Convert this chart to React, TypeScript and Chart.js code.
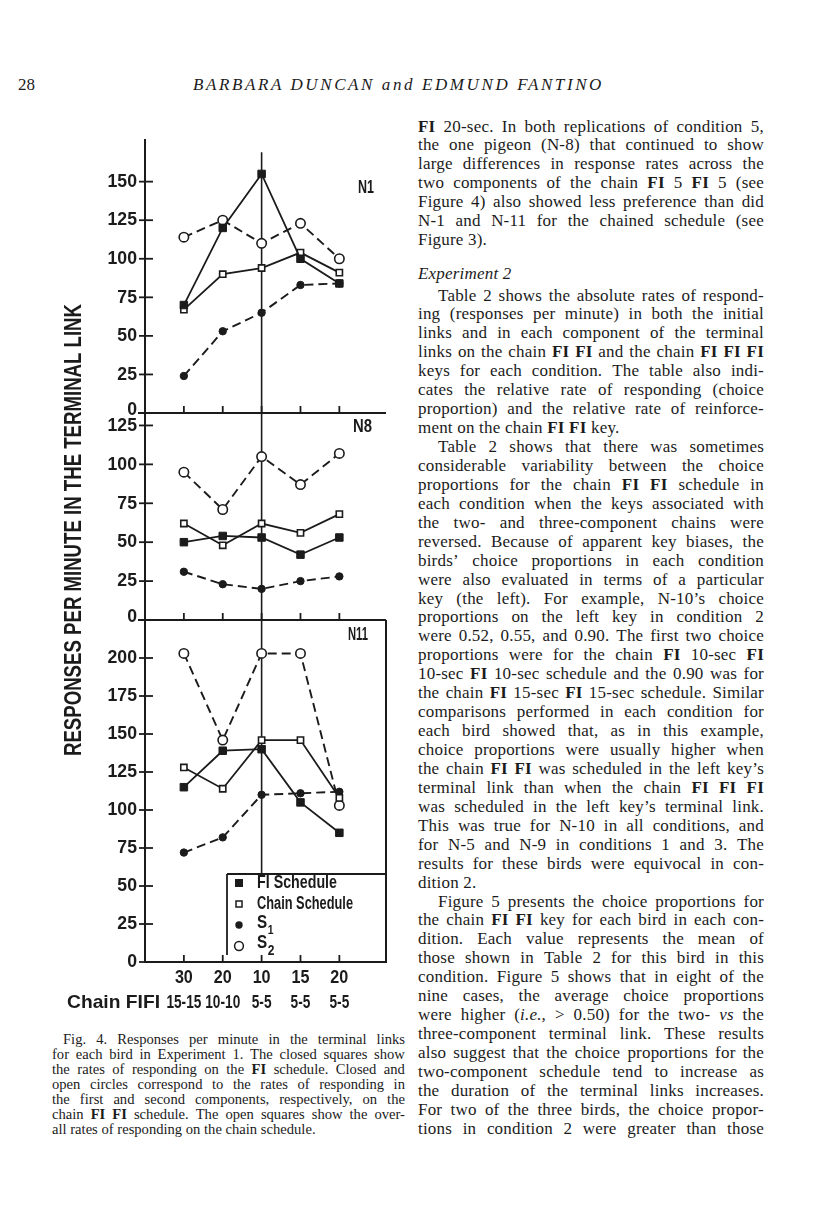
import React, { useEffect, useRef } from 'react';
import { Chart, registerables } from 'chart.js';

Chart.register(...registerables);

// ---------------- data ----------------
const conditions = ['30', '20', '10', '15', '20'];
const chainSchedules = ['15-15', '10-10', '5-5', '5-5', '5-5'];
const chainRowTitle = 'Chain FIFI';
const yAxisTitle = 'RESPONSES PER MINUTE IN THE TERMINAL LINK';
const panelNames = ['N1', 'N8', 'N11'];

const n1Fi = [70, 120, 155, 100, 84];
const n1Chain = [67, 90, 94, 104, 91];
const n1S1 = [24, 53, 65, 83, 84];
const n1S2 = [114, 125, 110, 123, 100];

const n8Fi = [50, 54, 53, 42, 53];
const n8Chain = [62, 48, 62, 56, 68];
const n8S1 = [31, 23, 20, 25, 28];
const n8S2 = [95, 71, 105, 87, 107];

const n11Fi = [115, 139, 140, 105, 85];
const n11Chain = [128, 114, 146, 146, 108];
const n11S1 = [72, 82, 110, 111, 112];
const n11S2 = [203, 146, 203, 203, 103];

const n1Ticks = [0, 25, 50, 75, 100, 125, 150];
const n8Ticks = [0, 25, 50, 75, 100, 125];
const n11Ticks = [0, 25, 50, 75, 100, 125, 150, 175, 200];
const n1Max = 177;
const n8Max = 133;
const n11Max = 225;
const referenceIndex = 2;
const referenceTop = 169;

// ---------------- page text ----------------
const bodyA = [
  'FI 20-sec. In both replications of condition 5,',
  'the one pigeon (N-8) that continued to show',
  'large differences in response rates across the',
  'two components of the chain FI 5 FI 5 (see',
  'Figure 4) also showed less preference than did',
  'N-1 and N-11 for the chained schedule (see',
  'Figure 3).',
];
const bodyAEnds = [6];
const heading = 'Experiment 2';
const bodyB = [
  'Table 2 shows the absolute rates of respond-',
  'ing (responses per minute) in both the initial',
  'links and in each component of the terminal',
  'links on the chain FI FI and the chain FI FI FI',
  'keys for each condition. The table also indi-',
  'cates the relative rate of responding (choice',
  'proportion) and the relative rate of reinforce-',
  'ment on the chain FI FI key.',
  'Table 2 shows that there was sometimes',
  'considerable variability between the choice',
  'proportions for the chain FI FI schedule in',
  'each condition when the keys associated with',
  'the two- and three-component chains were',
  'reversed. Because of apparent key biases, the',
  'birds\u2019 choice proportions in each condition',
  'were also evaluated in terms of a particular',
  'key (the left). For example, N-10\u2019s choice',
  'proportions on the left key in condition 2',
  'were 0.52, 0.55, and 0.90. The first two choice',
  'proportions were for the chain FI 10-sec FI',
  '10-sec FI 10-sec schedule and the 0.90 was for',
  'the chain FI 15-sec FI 15-sec schedule. Similar',
  'comparisons performed in each condition for',
  'each bird showed that, as in this example,',
  'choice proportions were usually higher when',
  'the chain FI FI was scheduled in the left key\u2019s',
  'terminal link than when the chain FI FI FI',
  'was scheduled in the left key\u2019s terminal link.',
  'This was true for N-10 in all conditions, and',
  'for N-5 and N-9 in conditions 1 and 3. The',
  'results for these birds were equivocal in con-',
  'dition 2.',
  'Figure 5 presents the choice proportions for',
  'the chain FI FI key for each bird in each con-',
  'dition. Each value represents the mean of',
  'those shown in Table 2 for this bird in this',
  'condition. Figure 5 shows that in eight of the',
  'nine cases, the average choice proportions',
  'were higher (_i.e.,_ > 0.50) for the two- _vs_ the',
  'three-component terminal link. These results',
  'also suggest that the choice proportions for the',
  'two-component schedule tend to increase as',
  'the duration of the terminal links increases.',
  'For two of the three birds, the choice propor-',
  'tions in condition 2 were greater than those',
];
const bodyBEnds = [7, 31];
const bodyBIndents = [0, 8, 32];
const caption = [
  'Fig. 4. Responses per minute in the terminal links',
  'for each bird in Experiment 1. The closed squares show',
  'the rates of responding on the FI schedule. Closed and',
  'open circles correspond to the rates of responding in',
  'the first and second components, respectively, on the',
  'chain FI FI schedule. The open squares show the over-',
  'all rates of responding on the chain schedule.',
];

// ---------------- styling ----------------
const INK = '#1b1b1b';
const SANS = '"Liberation Sans", Arial, sans-serif';
const SERIF = '"Liberation Serif", "Times New Roman", serif';

const pts = (arr: number[]) => arr.map((v, i) => ({ x: i, y: v }));

function panelDatasets(axis: string, fi: number[], chain: number[], s1: number[], s2: number[]) {
  const base = { yAxisID: axis, borderColor: INK, tension: 0, fill: false, pointBorderColor: INK };
  return [
    { ...base, label: 'FI Schedule', data: pts(fi), borderWidth: 1.8, pointStyle: 'rect', pointRadius: 5.3, pointBackgroundColor: INK, pointBorderWidth: 1 },
    { ...base, label: 'Chain Schedule', data: pts(chain), borderWidth: 1.8, pointStyle: 'rect', pointRadius: 4.4, pointBackgroundColor: '#ffffff', pointBorderWidth: 1.6 },
    { ...base, label: 'S1', data: pts(s1), borderWidth: 1.9, borderDash: [9, 5], pointStyle: 'circle', pointRadius: 3.7, pointBackgroundColor: INK, pointBorderWidth: 1 },
    { ...base, label: 'S2', data: pts(s2), borderWidth: 1.9, borderDash: [9, 5], pointStyle: 'circle', pointRadius: 4.7, pointBackgroundColor: '#ffffff', pointBorderWidth: 1.6 },
  ];
}

function fitText(ctx: CanvasRenderingContext2D, text: string, x: number, y: number, width: number, align: CanvasTextAlign) {
  const m = ctx.measureText(text).width || 1;
  ctx.save();
  ctx.translate(x, y);
  ctx.scale(width / m, 1);
  ctx.textAlign = align;
  ctx.fillText(text, 0, 0);
  ctx.restore();
}

function condensed(ctx: CanvasRenderingContext2D, text: string, x: number, y: number, sx: number, align: CanvasTextAlign) {
  ctx.save();
  ctx.translate(x, y);
  ctx.scale(sx, 1);
  ctx.textAlign = align;
  ctx.fillText(text, 0, 0);
  ctx.restore();
}

function seg(ctx: CanvasRenderingContext2D, x1: number, y1: number, x2: number, y2: number) {
  ctx.beginPath();
  ctx.moveTo(x1, y1);
  ctx.lineTo(x2, y2);
  ctx.stroke();
}

const decorPlugin = {
  id: 'decor',
  beforeDatasetsDraw(chart: any) {
    const { ctx, chartArea, scales } = chart;
    const xs = scales.x;
    const panels = [scales.yN1, scales.yN8, scales.yN11];
    ctx.save();
    ctx.strokeStyle = INK;
    ctx.setLineDash([]);
    ctx.lineWidth = 2;
    for (const s of [scales.yN1, scales.yN8]) {
      const py = s.getPixelForValue(0);
      seg(ctx, chartArea.left - 7, py, chartArea.right, py);
    }
    seg(ctx, chartArea.right, scales.yN11.top, chartArea.right, scales.yN11.bottom);
    ctx.lineWidth = 1.8;
    for (const s of panels) {
      for (const t of s.ticks) {
        const py = s.getPixelForValue(t.value);
        seg(ctx, s.right - 6, py, s.right + 8, py);
      }
      const p0 = s.getPixelForValue(0);
      conditions.forEach((_, i) => {
        const px = xs.getPixelForValue(i);
        seg(ctx, px, p0, px, p0 - 7);
      });
    }
    ctx.lineWidth = 1.6;
    const rx = xs.getPixelForValue(referenceIndex);
    seg(ctx, rx, scales.yN1.getPixelForValue(referenceTop), rx, chartArea.bottom - 88);
    ctx.restore();
  },
  afterDraw(chart: any) {
    const { ctx, chartArea, scales } = chart;
    const xs = scales.x;
    const panels = [scales.yN1, scales.yN8, scales.yN11];
    ctx.save();
    ctx.fillStyle = INK;
    ctx.strokeStyle = INK;
    ctx.textBaseline = 'middle';

    // y tick labels
    ctx.font = `bold 19px ${SANS}`;
    panels.forEach((s: any, pi: number) => {
      for (const t of s.ticks) {
        let py = s.getPixelForValue(t.value);
        if (t.value === 0 && pi < panels.length - 1) py -= 3;
        condensed(ctx, String(t.value), s.right - 8, py, 0.93, 'right');
      }
    });

    // x tick labels (two rows)
    ctx.font = `bold 19px ${SANS}`;
    for (const t of xs.ticks) {
      const px = xs.getPixelForValue(t.value);
      condensed(ctx, conditions[t.value], px, xs.top + 16, 0.85, 'center');
      condensed(ctx, chainSchedules[t.value], px, xs.top + 41, 0.72, 'center');
    }

    // panel labels
    ctx.font = `bold 18px ${SANS}`;
    fitText(ctx, panelNames[0], chartArea.right - 12, scales.yN1.top + 48, 16, 'right');
    fitText(ctx, panelNames[1], chartArea.right - 14, scales.yN8.top + 14, 19, 'right');
    fitText(ctx, panelNames[2], chartArea.right - 18, scales.yN11.top + 15, 20, 'right');

    // y title
    ctx.save();
    ctx.translate(74, (scales.yN1.top + scales.yN11.bottom) / 2 - 21);
    ctx.rotate(-Math.PI / 2);
    ctx.font = `bold 24px ${SANS}`;
    fitText(ctx, yAxisTitle, 0, 0, 452, 'center');
    ctx.restore();

    // chain row title
    ctx.font = `bold 19px ${SANS}`;
    fitText(ctx, chainRowTitle, 67, xs.top + 41, 93, 'left');

    // legend
    const L = chartArea.left + 82;
    const T = chartArea.bottom - 88;
    ctx.lineWidth = 1.8;
    ctx.setLineDash([]);
    seg(ctx, L, T, chartArea.right, T);
    seg(ctx, L, T, L, chartArea.bottom - 7);
    const mx = L + 12;
    const tx = L + 30;
    const rows = [T + 9, T + 30, T + 51, T + 72];
    ctx.fillRect(mx - 4, rows[0] - 4, 8, 8);
    ctx.lineWidth = 1.5;
    ctx.fillStyle = '#fff';
    ctx.fillRect(mx - 3, rows[1] - 3, 6, 6);
    ctx.strokeRect(mx - 3, rows[1] - 3, 6, 6);
    ctx.fillStyle = INK;
    ctx.beginPath();
    ctx.arc(mx, rows[2], 3.7, 0, Math.PI * 2);
    ctx.fill();
    ctx.beginPath();
    ctx.arc(mx, rows[3], 4.4, 0, Math.PI * 2);
    ctx.stroke();
    ctx.font = `bold 18px ${SANS}`;
    fitText(ctx, 'FI Schedule', tx, rows[0], 80, 'left');
    fitText(ctx, 'Chain Schedule', tx, rows[1], 96, 'left');
    ctx.font = `bold 19px ${SANS}`;
    condensed(ctx, 'S', tx, rows[2] - 2, 0.8, 'left');
    condensed(ctx, 'S', tx, rows[3] - 3, 0.8, 'left');
    const sw = ctx.measureText('S').width * 0.8;
    ctx.font = `bold 13px ${SANS}`;
    condensed(ctx, '1', tx + sw + 0.5, rows[2] + 5, 0.8, 'left');
    ctx.font = `bold 15px ${SANS}`;
    condensed(ctx, '2', tx + sw + 0.5, rows[3] + 5, 0.8, 'left');
    ctx.restore();
  },
};

function yScale(stackWeight: number, max: number, ticks: number[]) {
  return {
    type: 'linear',
    position: 'left',
    stack: 'panels',
    stackWeight,
    min: 0,
    max,
    afterBuildTicks: (s: any) => {
      s.ticks = ticks.map((v) => ({ value: v }));
    },
    afterFit: (s: any) => {
      s.width = 145;
    },
    ticks: { display: false, autoSkip: false, includeBounds: false },
    grid: { display: true, drawOnChartArea: false, drawTicks: false },
    border: { display: true, color: INK, width: 2 },
  };
}

function ChartPanel() {
  const ref = useRef<HTMLCanvasElement | null>(null);
  useEffect(() => {
    if (!ref.current) return;
    const chart = new Chart(ref.current, {
      type: 'line',
      data: {
        datasets: [
          ...panelDatasets('yN1', n1Fi, n1Chain, n1S1, n1S2),
          ...panelDatasets('yN8', n8Fi, n8Chain, n8S1, n8S2),
          ...panelDatasets('yN11', n11Fi, n11Chain, n11S1, n11S2),
        ] as any,
      },
      options: {
        responsive: false,
        animation: false,
        devicePixelRatio: 1,
        events: [],
        layout: { padding: { left: 0, right: 14, top: 40, bottom: 0 } },
        plugins: { legend: { display: false }, tooltip: { enabled: false } },
        scales: {
          x: {
            type: 'linear',
            min: -1.0,
            max: 5.2,
            afterBuildTicks: (s: any) => {
              s.ticks = conditions.map((_, i) => ({ value: i }));
            },
            afterFit: (s: any) => {
              s.height = 60;
            },
            ticks: { display: false, autoSkip: false, maxRotation: 0 },
            grid: { display: true, drawOnChartArea: false, drawTicks: false },
            border: { display: true, color: INK, width: 2 },
          },
          yN11: yScale(342, n11Max, n11Ticks),
          yN8: yScale(207, n8Max, n8Ticks),
          yN1: yScale(273, n1Max, n1Ticks),
        } as any,
      },
      plugins: [decorPlugin as any],
    });
    return () => chart.destroy();
  }, []);
  return (
    <canvas
      ref={ref}
      width={400}
      height={922}
      style={{ position: 'absolute', left: 0, top: 100, width: 400, height: 922 }}
    />
  );
}

function rich(word: string, key: number) {
  const parts = word.split(/(_[^_]+_|\bFI\b)/g).filter((p) => p !== '');
  return (
    <span key={key}>
      {parts.map((p, i) => {
        if (p.length > 2 && p.startsWith('_') && p.endsWith('_')) return <i key={i}>{p.slice(1, -1)}</i>;
        if (p === 'FI') return <b key={i}>FI</b>;
        return <React.Fragment key={i}>{p}</React.Fragment>;
      })}
    </span>
  );
}

function Line({ text, lh, justify, indent }: { text: string; lh: number; justify: boolean; indent: number }) {
  const words = text.split(' ');
  if (justify) {
    return (
      <div style={{ height: lh, lineHeight: `${lh}px`, display: 'flex', justifyContent: 'space-between', paddingLeft: indent, whiteSpace: 'nowrap' }}>
        {words.map((w, i) => rich(w, i))}
      </div>
    );
  }
  return (
    <div style={{ height: lh, lineHeight: `${lh}px`, paddingLeft: indent, whiteSpace: 'nowrap' }}>
      {words.map((w, i) => (
        <React.Fragment key={i}>
          {i > 0 ? ' ' : ''}
          {rich(w, i)}
        </React.Fragment>
      ))}
    </div>
  );
}

export default function App() {
  const LH = 18.95;
  const body = { fontFamily: SERIF, fontSize: 17, letterSpacing: '0.2px' };
  return (
    <div style={{ position: 'absolute', left: 0, top: 0, width: 816, height: 1207, background: '#fff', overflow: 'hidden', color: '#1b1b1b' }}>
      <div style={{ position: 'absolute', left: 18, top: 75, fontFamily: SERIF, fontSize: 17, lineHeight: '20px' }}>28</div>
      <div style={{ position: 'absolute', left: 193, top: 75, fontFamily: SERIF, fontSize: 17, lineHeight: '20px', fontStyle: 'italic', letterSpacing: '2.6px', whiteSpace: 'nowrap' }}>
        BARBARA DUNCAN and EDMUND FANTINO
      </div>

      <ChartPanel />

      <div style={{ position: 'absolute', left: 52, top: 1032, width: 353, fontFamily: SERIF, fontSize: 14.6 }}>
        {caption.map((t, i) => (
          <Line key={i} text={t} lh={15} justify={i < caption.length - 1} indent={i === 0 ? 11 : 0} />
        ))}
      </div>

      <div style={{ position: 'absolute', left: 418, top: 117.5, width: 346, ...body }}>
        {bodyA.map((t, i) => (
          <Line key={i} text={t} lh={LH} justify={!bodyAEnds.includes(i)} indent={0} />
        ))}
      </div>
      <div style={{ position: 'absolute', left: 418, top: 264.5, ...body, fontStyle: 'italic', lineHeight: `${LH}px` }}>
        {heading}
      </div>
      <div style={{ position: 'absolute', left: 418, top: 286.5, width: 346, ...body }}>
        {bodyB.map((t, i) => (
          <Line key={i} text={t} lh={LH} justify={!bodyBEnds.includes(i)} indent={bodyBIndents.includes(i) ? 20 : 0} />
        ))}
      </div>
    </div>
  );
}
